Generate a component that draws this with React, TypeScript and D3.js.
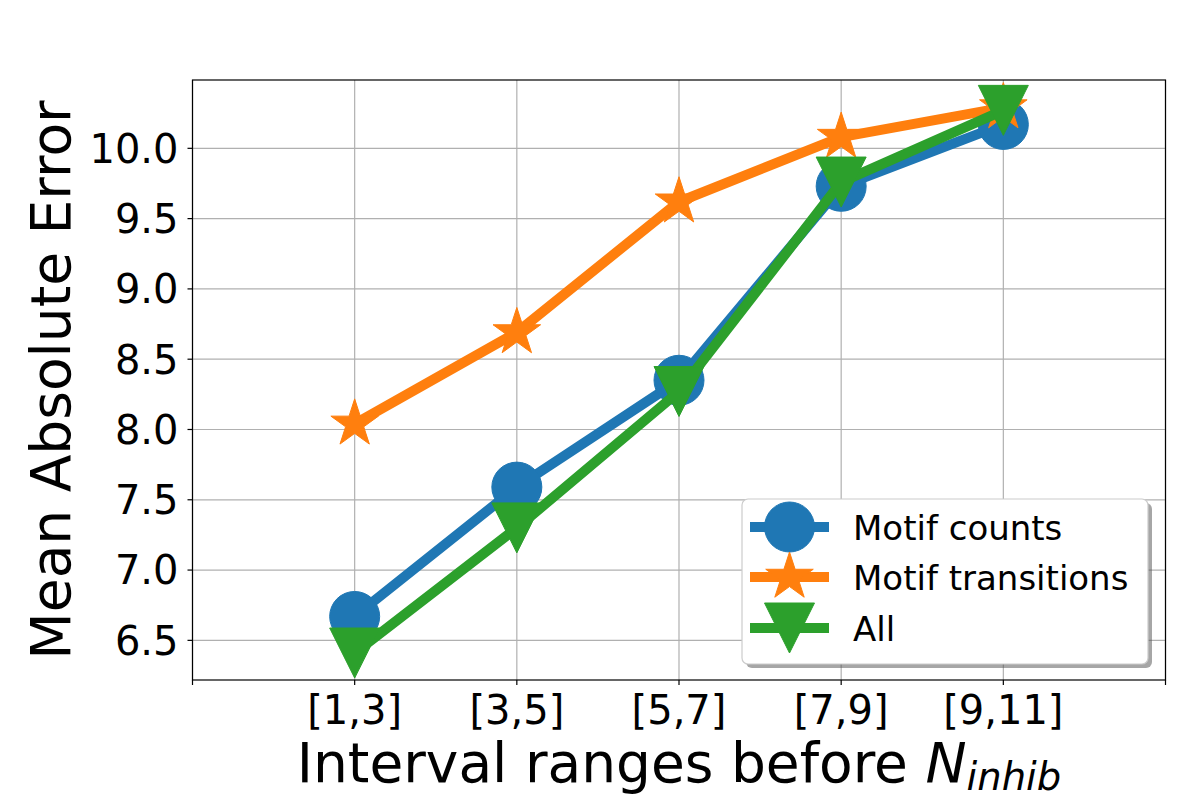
import * as d3 from 'd3';

const categories = ['[1,3]', '[3,5]', '[5,7]', '[7,9]', '[9,11]'];
const motifCounts = [6.67, 7.59, 8.35, 9.73, 10.17];
const motifTransitions = [8.04, 8.69, 9.62, 10.08, 10.29];
const allFeatures = [6.41, 7.3, 8.27, 9.76, 10.27];
const yTicks = [6.5, 7.0, 7.5, 8.0, 8.5, 9.0, 9.5, 10.0];

type Shape = 'circle' | 'star' | 'triangle';

const series: { name: string; values: number[]; color: string; shape: Shape }[] = [
  { name: 'Motif counts', values: motifCounts, color: '#1f77b4', shape: 'circle' },
  { name: 'Motif transitions', values: motifTransitions, color: '#ff7f0e', shape: 'star' },
  { name: 'All', values: allFeatures, color: '#2ca02c', shape: 'triangle' },
];

const FONT = '"DejaVu Sans", sans-serif';
const R = 25; // marker half size

function starPath(r: number) {
  const inner = r * 0.381966;
  const pts: string[] = [];
  for (let i = 0; i < 10; i++) {
    const rad = i % 2 === 0 ? r : inner;
    const a = -Math.PI / 2 + (i * Math.PI) / 5;
    pts.push(`${(rad * Math.cos(a)).toFixed(2)},${(rad * Math.sin(a)).toFixed(2)}`);
  }
  return `M${pts.join('L')}Z`;
}

function Marker({ shape, x, y, color }: { shape: Shape; x: number; y: number; color: string }) {
  if (shape === 'circle') {
    return <circle cx={x} cy={y} r={R} fill={color} stroke={color} strokeWidth={1} />;
  }
  if (shape === 'star') {
    return <path d={starPath(R)} transform={`translate(${x},${y})`} fill={color} stroke={color} strokeWidth={1} />;
  }
  return (
    <path
      d={`M${-R},${-R}L${R},${-R}L0,${R}Z`}
      transform={`translate(${x},${y})`}
      fill={color}
      stroke={color}
      strokeWidth={1}
    />
  );
}

export default function App() {
  const left = 192.5;
  const right = 1165.5;
  const top = 80;
  const bottom = 680;

  const x = d3.scaleLinear().domain([-1, 5]).range([left, right]);
  const y = d3.scaleLinear().domain([6.218, 10.486]).range([bottom, top]);
  const xTicks = d3.range(-1, 6);

  const line = d3
    .line<number>()
    .x((_, i) => x(i))
    .y((d) => y(d));

  const legendX = 742;
  const legendY = 499;
  const legendW = 406;
  const legendH = 165;
  const rowY = [527, 577, 628];

  return (
    <svg
      width={1200}
      height={800}
      style={{ position: 'absolute', left: 0, top: 0, background: '#fff' }}
      fontFamily={FONT}
    >
      <rect width={1200} height={800} fill="#fff" />

      {/* grid */}
      {yTicks.map((t) => (
        <line key={`gy${t}`} x1={left} x2={right} y1={y(t)} y2={y(t)} stroke="#b0b0b0" strokeWidth={1.2} />
      ))}
      {xTicks.map((t) => (
        <line key={`gx${t}`} x1={x(t)} x2={x(t)} y1={top} y2={bottom} stroke="#b0b0b0" strokeWidth={1.2} />
      ))}

      {/* series */}
      {series.map((s) => (
        <g key={s.name}>
          <path d={line(s.values) ?? ''} fill="none" stroke={s.color} strokeWidth={10} strokeLinejoin="round" />
          {s.values.map((v, i) => (
            <Marker key={i} shape={s.shape} x={x(i)} y={y(v)} color={s.color} />
          ))}
        </g>
      ))}

      {/* spines */}
      <rect x={left} y={top} width={right - left} height={bottom - top} fill="none" stroke="#000" strokeWidth={1.2} />

      {/* y ticks */}
      {yTicks.map((t) => (
        <g key={`yt${t}`}>
          <line x1={left - 5} x2={left} y1={y(t)} y2={y(t)} stroke="#000" strokeWidth={1.2} />
          <text x={left - 14} y={y(t)} dy="0.36em" textAnchor="end" fontSize={40} fill="#000">
            {t.toFixed(1)}
          </text>
        </g>
      ))}

      {/* x ticks */}
      {xTicks.map((t) => (
        <g key={`xt${t}`}>
          <line x1={x(t)} x2={x(t)} y1={bottom} y2={bottom + 5} stroke="#000" strokeWidth={1.2} />
          <text x={x(t)} y={724} textAnchor="middle" fontSize={40} fill="#000">
            {categories[t] ?? ''}
          </text>
        </g>
      ))}

      {/* axis labels */}
      <text x={(left + right) / 2} y={782} textAnchor="middle" fontSize={55} fill="#000">
        Interval ranges before{' '}
        <tspan fontStyle="italic">N</tspan>
        <tspan fontStyle="italic" fontSize={38.5} dy={8}>
          inhib
        </tspan>
      </text>
      <text
        transform={`translate(70,${(top + bottom) / 2}) rotate(-90)`}
        textAnchor="middle"
        fontSize={55}
        fill="#000"
      >
        Mean Absolute Error
      </text>

      {/* legend */}
      <rect x={legendX + 4} y={legendY + 4} width={legendW} height={legendH} rx={6} fill="#4d4d4d" opacity={0.5} />
      <rect
        x={legendX}
        y={legendY}
        width={legendW}
        height={legendH}
        rx={6}
        fill="#fff"
        stroke="#cccccc"
        strokeWidth={1.2}
      />
      {series.map((s, i) => (
        <g key={`lg${s.name}`}>
          <line x1={750} x2={829} y1={rowY[i]} y2={rowY[i]} stroke={s.color} strokeWidth={10} />
          <Marker shape={s.shape} x={789.5} y={rowY[i]} color={s.color} />
          <text x={853} y={rowY[i] + 12.5} fontSize={34} fill="#000">
            {s.name}
          </text>
        </g>
      ))}
    </svg>
  );
}
